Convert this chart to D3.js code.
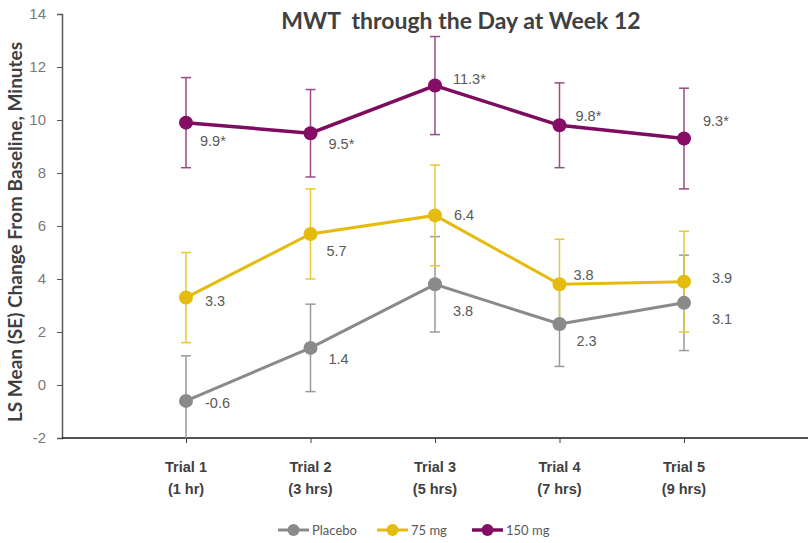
<!DOCTYPE html>
<html>
<head>
<meta charset="utf-8">
<script src="https://cdn.jsdelivr.net/npm/d3@7"></script>
<style>
  body { margin: 0; background: #fff; }
</style>
</head>
<body>
<div id="container"></div>
<script>
// data
let categories = ["Trial 1", "Trial 2", "Trial 3", "Trial 4", "Trial 5"];
let subLabels = ["(1 hr)", "(3 hrs)", "(5 hrs)", "(7 hrs)", "(9 hrs)"];
let yTicks = [-2, 0, 2, 4, 6, 8, 10, 12, 14];

let placeboMean = [-0.6, 1.4, 3.8, 2.3, 3.1];
let placeboSE = [1.7, 1.65, 1.8, 1.6, 1.8];
let mg75Mean = [3.3, 5.7, 6.4, 3.8, 3.9];
let mg75SE = [1.7, 1.7, 1.9, 1.7, 1.9];
let mg150Mean = [9.9, 9.5, 11.3, 9.8, 9.3];
let mg150SE = [1.7, 1.65, 1.85, 1.6, 1.9];
let mg150Labels = ["9.9*", "9.5*", "11.3*", "9.8*", "9.3*"];

// label nudges (pixels) so they sit like in the original
let placeboNudge = [[19, 2], [18, 11], [18, 27], [17, 17], [28, 16]];
let mg75Nudge = [[19, 3], [16, 17], [19, 0], [14, -9], [28, -4]];
let mg150Nudge = [[14, 18], [18, 11], [18, -7], [16, -9], [19, -18]];

let w = 808;
let h = 543;

let series = [
  { name: "Placebo", mean: placeboMean, se: placeboSE, labels: placeboMean.map(d => d.toFixed(1)),
    nudge: placeboNudge, line: "#8a8a8a", dot: "#8a8a8a", bar: "#9a9a9a", width: 3 },
  { name: "75 mg", mean: mg75Mean, se: mg75SE, labels: mg75Mean.map(d => d.toFixed(1)),
    nudge: mg75Nudge, line: "#e5bc0e", dot: "#e5bc0e", bar: "#e6c83a", width: 3 },
  { name: "150 mg", mean: mg150Mean, se: mg150SE, labels: mg150Labels,
    nudge: mg150Nudge, line: "#7d0c5f", dot: "#860d66", bar: "#9a4a88", width: 3.5 }
];

let viz = d3.select("#container")
  .append("svg")
    .attr("width", w)
    .attr("height", h)
    .style("font-family", "Liberation Sans, Arial, sans-serif");

// scales
let xScale = d3.scalePoint().domain(categories).range([186, 684]);
let yScale = d3.scaleLinear().domain([-2, 14]).range([438, 14]);

// y axis
let yAxis = d3.axisLeft(yScale).tickValues(yTicks).tickSize(5).tickPadding(11)
  .tickFormat(d => String(d));
let yAxisGroup = viz.append("g").attr("transform", "translate(62,0)").call(yAxis);
yAxisGroup.select(".domain").attr("stroke", "#595959").attr("stroke-width", 1.5);
yAxisGroup.selectAll(".tick line").attr("stroke", "#595959");
yAxisGroup.selectAll(".tick text")
  .attr("fill", "#7a7a7a")
  .attr("font-size", 15)
  .attr("font-family", "Liberation Sans, Arial, sans-serif");

// x axis
let xAxis = d3.axisBottom(xScale).tickSize(5).tickSizeOuter(0).tickFormat("");
let xAxisGroup = viz.append("g").attr("transform", "translate(0,438)").call(xAxis);
xAxisGroup.select(".domain").attr("d", "M62,0H808").attr("stroke", "#1a1a1a").attr("stroke-width", 1.5);
xAxisGroup.selectAll(".tick line").attr("stroke", "#404040");

let catText = viz.append("g").selectAll("text").data(categories).enter()
  .append("text")
    .attr("x", d => xScale(d))
    .attr("y", 472)
    .attr("text-anchor", "middle")
    .attr("font-size", 14.5)
    .attr("font-weight", "bold")
    .attr("fill", "#404040");
catText.append("tspan").attr("x", d => xScale(d)).text(d => d);
catText.append("tspan").attr("x", d => xScale(d)).attr("dy", 22).text((d, i) => subLabels[i]);

// y title
viz.append("text")
  .attr("transform", "translate(22,232) rotate(-90)")
  .attr("text-anchor", "middle")
  .attr("font-family", "Lato, sans-serif")
  .attr("font-weight", "bold")
  .attr("font-size", 19)
  .attr("fill", "#404040")
  .text("LS Mean (SE) Change From Baseline, Minutes");

// title
viz.append("text")
  .attr("x", 461)
  .attr("y", 29)
  .attr("text-anchor", "middle")
  .attr("font-family", "Lato, sans-serif")
  .attr("font-weight", "bold")
  .attr("font-size", 23)
  .attr("fill", "#404040")
  .attr("xml:space", "preserve")
  .text("MWT  through the Day at Week 12");

// series
let lineGen = d3.line().x((d, i) => xScale(categories[i])).y(d => yScale(d));
let yMin = yScale.domain()[0];

series.forEach(function(s){
  let g = viz.append("g").attr("class", "series");
  // error bars
  let pts = s.mean.map((m, i) => ({ cat: categories[i], m: m, se: s.se[i] }));
  let eb = g.selectAll(".eb").data(pts).enter().append("g").attr("class", "eb");
  eb.append("line")
    .attr("x1", d => xScale(d.cat)).attr("x2", d => xScale(d.cat))
    .attr("y1", d => yScale(d.m + d.se))
    .attr("y2", d => yScale(Math.max(yMin, d.m - d.se)))
    .attr("stroke", s.bar).attr("stroke-width", 1.5);
  eb.append("line")
    .attr("x1", d => xScale(d.cat) - 5).attr("x2", d => xScale(d.cat) + 5)
    .attr("y1", d => yScale(d.m + d.se)).attr("y2", d => yScale(d.m + d.se))
    .attr("stroke", s.bar).attr("stroke-width", 1.5);
  eb.filter(d => d.m - d.se > yMin).append("line")
    .attr("x1", d => xScale(d.cat) - 5).attr("x2", d => xScale(d.cat) + 5)
    .attr("y1", d => yScale(d.m - d.se)).attr("y2", d => yScale(d.m - d.se))
    .attr("stroke", s.bar).attr("stroke-width", 1.5);
});

series.forEach(function(s){
  let g = viz.append("g").attr("class", "series");
  g.append("path")
    .attr("d", lineGen(s.mean))
    .attr("fill", "none")
    .attr("stroke", s.line)
    .attr("stroke-width", s.width);
  g.selectAll("circle").data(s.mean).enter().append("circle")
    .attr("cx", (d, i) => xScale(categories[i]))
    .attr("cy", d => yScale(d))
    .attr("r", 7)
    .attr("fill", s.dot);
  g.selectAll(".lbl").data(s.mean).enter().append("text")
    .attr("class", "lbl")
    .attr("x", (d, i) => xScale(categories[i]) + s.nudge[i][0])
    .attr("y", (d, i) => yScale(d) + s.nudge[i][1])
    .attr("dy", "0.35em")
    .attr("font-size", 14.5)
    .attr("fill", "#595959")
    .text((d, i) => s.labels[i]);
});

// legend
let legendX = [278, 377, 472];
let legend = viz.append("g").selectAll("g").data(series).enter()
  .append("g")
    .attr("transform", (d, i) => "translate(" + legendX[i] + ",530)");
legend.append("line")
  .attr("x1", 0).attr("x2", 31).attr("y1", 0).attr("y2", 0)
  .attr("stroke", d => d.line).attr("stroke-width", d => d.width);
legend.append("circle")
  .attr("cx", 15.5).attr("cy", 0).attr("r", 6)
  .attr("fill", d => d.dot);
legend.append("text")
  .attr("x", 34).attr("y", 0).attr("dy", "0.35em")
  .attr("font-family", "Lato, sans-serif")
  .attr("font-size", 13)
  .attr("fill", "#595959")
  .text(d => d.name);
</script>
</body>
</html>
